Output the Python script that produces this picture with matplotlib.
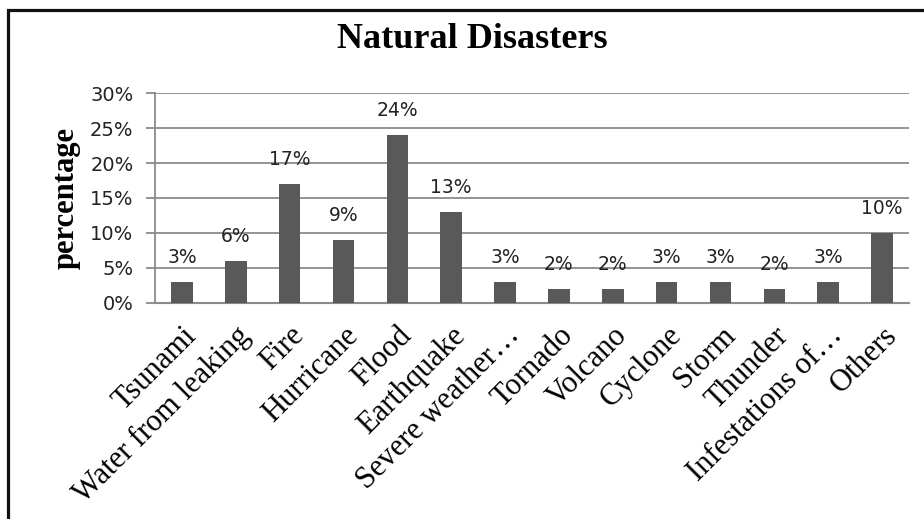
import matplotlib.pyplot as plt
from matplotlib.patches import Rectangle
from matplotlib.ticker import FuncFormatter

# categories and their shares (percent)
categories = ['Tsunami', 'Water from leaking', 'Fire', 'Hurricane', 'Flood',
              'Earthquake', 'Severe weather\u2026', 'Tornado', 'Volcano',
              'Cyclone', 'Storm', 'Thunder', 'Infestations of\u2026', 'Others']
percent = [3, 6, 17, 9, 24, 13, 3, 2, 2, 3, 3, 2, 3, 10]
y_ticks = [0, 5, 10, 15, 20, 25, 30]

serif = ['Liberation Serif', 'DejaVu Serif']
sans = ['DejaVu Sans']

fig = plt.figure(figsize=(9.24, 5.19), dpi=100)
ax = fig.add_axes([0.1677, 0.4162, 0.8161, 0.4046])

x = list(range(len(categories)))
bars = ax.bar(x, percent, width=0.4, color='#595959', zorder=3)

# value labels above the bars
for xi, v in zip(x, percent):
    ax.annotate(f'{v}%', (xi, v), xytext=(0, 10.5), textcoords='offset points',
                ha='center', va='bottom', fontsize=13.5, family=sans,
                color='#222222')

ax.set_xlim(-0.5, len(categories) - 0.5)
ax.set_ylim(0, 30)
ax.set_yticks(y_ticks)
ax.yaxis.set_major_formatter(FuncFormatter(lambda v, p: f'{int(v)}%'))
ax.grid(axis='y', color='#8a8a8a', linewidth=1.3, zorder=0)

for side in ['top', 'right']:
    ax.spines[side].set_visible(False)
ax.spines['left'].set_color('#8a8a8a')
ax.spines['left'].set_linewidth(1.3)
ax.spines['bottom'].set_color('#8a8a8a')
ax.spines['bottom'].set_linewidth(1.5)

ax.tick_params(axis='y', length=6.5, width=1.3, color='#8a8a8a',
               labelsize=14, labelcolor='#222222', pad=9)
ax.tick_params(axis='x', length=0, pad=13)
for lab in ax.get_yticklabels():
    lab.set_family(sans)

ax.set_xticks(x)
ax.set_xticklabels(categories, rotation=45, ha='right', va='top',
                   rotation_mode='anchor', fontsize=22, family=serif)

ax.set_ylabel('percentage', fontsize=22, fontweight='bold', family=serif)
ax.yaxis.set_label_coords(-0.098, 0.5)

fig.text(0.511, 1 - 48 / 519, 'Natural Disasters', ha='center',
         va='baseline', fontsize=26, fontweight='bold', family=serif)

# outer chart border, cut off at the right and bottom
fig.patches.append(Rectangle((7.5, -20), 1000, 519 - 10 + 20,
                             transform=None, fill=False,
                             edgecolor='#111111', linewidth=2.3))

fig.savefig('out.png', dpi=100)
